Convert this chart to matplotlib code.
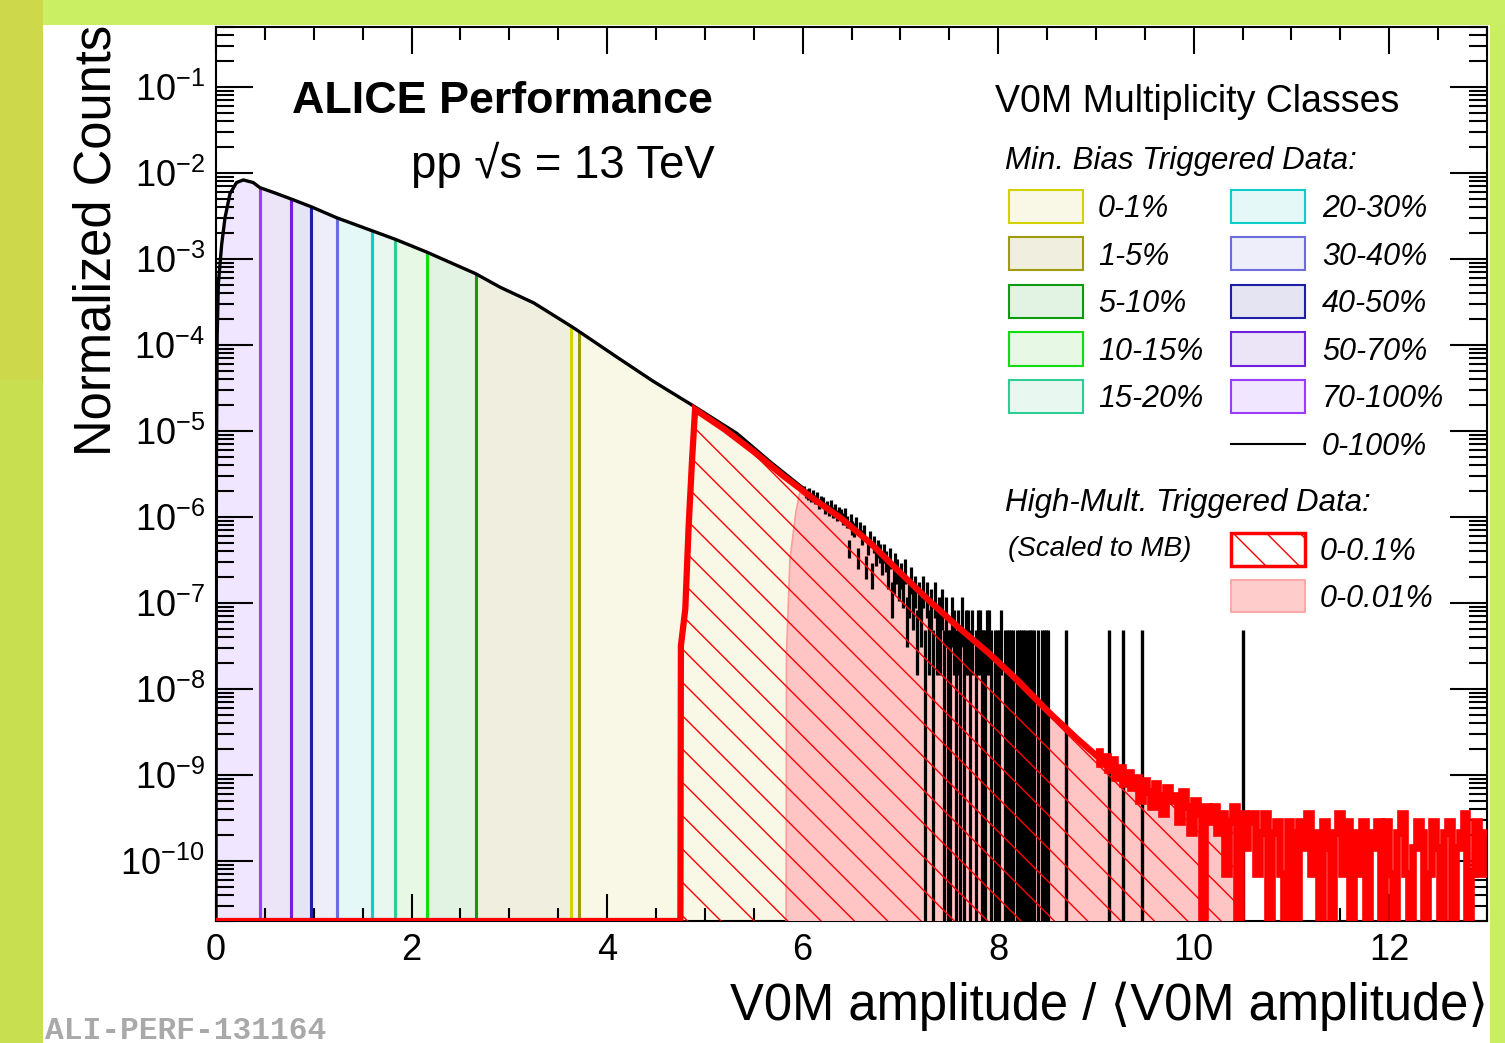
import numpy as np
import matplotlib.pyplot as plt
from matplotlib.patches import Rectangle
from matplotlib.lines import Line2D
from matplotlib.ticker import LogLocator, MultipleLocator, NullFormatter

plt.rcParams['font.family'] = ['Liberation Sans', 'DejaVu Sans']
plt.rcParams['mathtext.fontset'] = 'custom'
plt.rcParams['mathtext.rm'] = 'Liberation Sans'
plt.rcParams['mathtext.it'] = 'Liberation Sans:italic'
plt.rcParams['mathtext.bf'] = 'Liberation Sans:bold'
plt.rcParams['hatch.linewidth'] = 1.0

W, H = 1505, 1043
ybot, ytop = 2e-11, 0.5

# ---- min. bias 0-100% (smooth part), log10 of normalized counts
mb_x = [0.0, 0.004, 0.012, 0.024, 0.058, 0.092, 0.143, 0.21, 0.28, 0.38, 0.45, 0.60,
        0.765, 0.97, 1.235, 1.594, 1.833, 2.157, 2.655, 2.91, 3.25, 3.63, 3.71, 4.10, 4.47,
        4.90, 5.33, 5.67, 6.0]
mb_logy = [np.nan, -5.5, -3.9, -3.29, -2.83, -2.52, -2.24, -2.11, -2.08, -2.11, -2.17, -2.23,
           -2.30, -2.39, -2.52, -2.67, -2.77, -2.92, -3.17, -3.33, -3.51, -3.78, -3.84, -4.14, -4.42,
           -4.72, -5.03, -5.36, -5.66]

# ---- min. bias tail: counts per bin (0.02 wide) from 6.0, one count = mb_unit
mb_unit = 2.45e-8
mb_tail_start, mb_tail_bw = 6.0, 0.02
mb_tail_counts = [
    84, 77, 73, 80, 69, 75, 66, 71, 58, 64,
    61, 52, 55, 49, 57, 47, 51, 43, 46, 44,
    39, 45, 36, 18, 38, 31, 29, 35, 14, 30,
    24, 28, 11, 19, 23, 9, 20, 15, 18, 16,
    12, 16, 13, 9, 14, 5, 8, 12, 10, 7,
    9, 6, 10, 3, 5, 8, 4, 6, 2, 5,
    3, 6, 1, 5, 2, 4, 1, 5, 2, 3,
    2, 4, 1, 3, 1, 1, 3, 2, 1, 2,
    1, 3, 1, 2, 2, 1, 2, 0, 1, 2,
    2, 1, 1, 1, 2, 2, 1, 0, 1, 1,
    1, 2, 0, 1, 1, 1, 1, 1, 0, 1,
    1, 1, 1, 1, 0, 1, 1, 1, 1, 0,
    1, 0, 1, 1, 1, 1, 0, 0, 0, 0]
mb_single_x = [8.69, 9.13, 9.28, 9.47, 10.50]

# ---- multiplicity classes (low to high amplitude)
class_labels = ['70-100%', '50-70%', '40-50%', '30-40%', '20-30%',
                '15-20%', '10-15%', '5-10%', '1-5%', '0-1%']
class_lo = [0.0, 0.45, 0.765, 0.97, 1.235, 1.594, 1.833, 2.157, 2.655, 3.63]
class_hi = [0.45, 0.765, 0.97, 1.235, 1.594, 1.833, 2.157, 2.655, 3.71, 6.0]
class_line = ['#9d3cff', '#7020dd', '#1e1ea8', '#6c6cdc', '#0fcccc',
              '#30cc96', '#10dd10', '#109a10', '#a09a10', '#d2d200']
class_fill = ['#f1e6ff', '#ece4f7', '#e4e4f2', '#eeeefa', '#e4f8f8',
              '#e9f7f1', '#e7f9e4', '#e3f3e3', '#f0efdf', '#f9f8e6']

# ---- high-mult. 0-0.1% (scaled to MB)
hm01_x = [0.0, 4.75, 4.755, 4.80, 4.835, 4.87, 4.90, 5.20, 5.50, 5.80, 6.10, 6.40,
          6.70, 7.00, 7.30, 7.60, 7.90, 8.20, 8.50, 8.80, 9.00]
hm01_logy = [np.nan, np.nan, -7.5, -7.07, -6.09, -5.32, -4.75, -4.98, -5.24, -5.52, -5.78, -6.02,
             -6.31, -6.65, -6.98, -7.29, -7.58, -7.90, -8.25, -8.57, -8.77]
hm_unit = 7.08e-11
hm_tail_start, hm_tail_bw = 9.0, 0.04
hm01_tail_counts = [
    26, 19, 23, 16, 21, 13, 17, 11, 15, 10,
    13, 7, 12, 9, 6, 11, 8, 5, 10, 7,
    8, 4, 9, 6, 3, 7, 5, 0, 6, 4,
    6, 3, 5, 1, 4, 6, 0, 5, 2, 4,
    5, 1, 3, 5, 0, 3, 4, 1, 0, 4,
    3, 0, 4, 2, 5, 1, 3, 0, 4, 2,
    0, 3, 5, 1, 4, 0, 3, 1, 4, 0,
    3, 2, 4, 0, 4, 1, 0, 3, 5, 1,
    0, 2, 4, 3, 0, 1, 4, 2, 0, 3,
    4, 0, 2, 3, 5, 0, 1, 4, 1, 3]

# ---- high-mult. 0-0.01% (scaled to MB)
hm001_x = [5.83, 5.835, 5.87, 5.93, 5.97, 6.10, 6.40, 6.70, 7.00, 7.30, 7.60, 7.90,
           8.20, 8.50, 8.80, 9.12, 9.46, 9.80, 10.14, 10.48, 10.481]
hm001_logy = [np.nan, -7.6, -6.5, -5.95, -5.72, -5.80, -6.04, -6.33, -6.67, -7.0, -7.31, -7.6,
              -7.92, -8.27, -8.59, -8.92, -9.12, -9.27, -9.43, -9.52, np.nan]


def to_y(logy, floor):
    logy = np.asarray(logy, dtype=float)
    return np.where(np.isnan(logy), floor, 10 ** logy)


fig = plt.figure(figsize=(W / 100, H / 100), dpi=100)

# slide background strips
def px(x, y):
    return (x / W, 1 - y / H)

def fig_rect(x0, y0, x1, y1, **kw):
    r = Rectangle(px(x0, y1), (x1 - x0) / W, (y1 - y0) / H, transform=fig.transFigure, **kw)
    fig.patches.append(r)
    return r

fig_rect(0, 0, 43, 380, facecolor='#cdd94a', edgecolor='none')
fig_rect(0, 380, 43, H, facecolor='#c8df50', edgecolor='none')
fig_rect(43, 0, W, 25, facecolor='#cbef63', edgecolor='none')
fig_rect(1490, 25, W, H, facecolor='#c9ee61', edgecolor='none')

ax = fig.add_axes([216 / W, (H - 921) / H, (1487 - 216) / W, (921 - 27) / H])
ax.set_yscale('log')
ax.set_xlim(0, 13)
ax.set_ylim(ybot, ytop)

mbx = np.array(mb_x)
mby = to_y(mb_logy, ybot)

# class fills, then left and right edge lines
for i in range(len(class_labels)):
    m = (mbx >= class_lo[i] - 1e-9) & (mbx <= class_hi[i] + 1e-9)
    ax.fill_between(mbx[m], 1e-12, mby[m], facecolor=class_fill[i], edgecolor='none', zorder=1)
for i in range(1, len(class_labels)):
    ax.vlines(class_lo[i], 1e-12, np.interp(class_lo[i], mbx, mby), color=class_line[i], lw=2.2, zorder=2)
for i in range(len(class_labels) - 1):
    ax.vlines(class_hi[i], 1e-12, np.interp(class_hi[i], mbx, mby), color=class_line[i], lw=2.2, zorder=2)

# 0-0.01% HM pink
px001 = np.array(hm001_x)
py001 = to_y(hm001_logy, 1e-12)
ax.fill_between(px001, 1e-12, py001, facecolor='#ffc4c4', edgecolor='none', zorder=3)
ax.plot(px001, py001, color='#ff9c9c', lw=1.2, zorder=3)

# MB 0-100% black
ax.plot(mbx, mby, color='black', lw=2.4, zorder=4)
cnt = np.array(mb_tail_counts, dtype=float)
left = mb_tail_start + mb_tail_bw * np.arange(len(cnt))
cen = left + mb_tail_bw / 2
nz = cnt > 0
ax.hlines(cnt[nz] * mb_unit, left[nz], left[nz] + mb_tail_bw, color='black', lw=2.0, zorder=4)
lo_err = np.where(cnt - np.sqrt(cnt) > 0, (cnt - np.sqrt(cnt)) * mb_unit, 1e-12)
ax.vlines(cen[nz], lo_err[nz], (cnt[nz] + np.sqrt(cnt[nz])) * mb_unit, color='black', lw=2.3, zorder=4)
sx = np.array(mb_single_x)
ax.vlines(sx, 1e-12, 2 * mb_unit, color='black', lw=2.4, zorder=4)
ax.hlines(np.full(len(sx), mb_unit), sx - 0.01, sx + 0.01, color='black', lw=2.0, zorder=4)

# HM 0-0.1% red, hatched
rx = np.array(hm01_x)
ry = to_y(hm01_logy, ybot)
ax.fill_between(rx, 1e-12, ry, facecolor='none', edgecolor='red', hatch='\\', lw=0, zorder=5)
hc = np.array(hm01_tail_counts, dtype=float)
hedges = hm_tail_start + hm_tail_bw * np.arange(len(hc) + 1)
hy = np.where(hc > 0, hc * hm_unit, ybot)
hm = hedges <= 10.5
ax.fill_between(hedges[hm], 1e-12, np.append(hy, hy[-1])[hm], step='post',
                facecolor='none', edgecolor='red', hatch='\\', lw=0, zorder=5)
ax.plot(rx, ry, color='red', lw=4.5, zorder=6, solid_joinstyle='miter')
ax.stairs(hy, hedges, color='red', lw=5.5, baseline=None, zorder=6)

# axes styling
ax.set_axisbelow(False)
ax.xaxis.set_major_locator(MultipleLocator(2))
ax.xaxis.set_minor_locator(MultipleLocator(0.5))
ax.yaxis.set_major_locator(LogLocator(base=10, numticks=100))
ax.yaxis.set_minor_locator(LogLocator(base=10, subs=np.arange(2, 10), numticks=100))
ax.yaxis.set_minor_formatter(NullFormatter())
ax.tick_params(which='both', direction='in', top=True, right=True, width=1.5, colors='black')
ax.tick_params(axis='x', which='major', length=19.5, pad=9, labelsize=26)
ax.tick_params(axis='x', which='minor', length=9.5)
ax.tick_params(axis='y', which='major', length=26.5, pad=8, labelsize=26)
ax.tick_params(axis='y', which='minor', length=13)
for s in ax.spines.values():
    s.set_linewidth(1.5)

# titles
fig.text(*px(292, 113), 'ALICE Performance', fontsize=32.3, weight='bold', va='baseline')
fig.text(*px(411, 178), 'pp √s = 13 TeV', fontsize=32.8, va='baseline')
fig.text(*px(97, 25), 'Normalized Counts', fontsize=36.5, rotation=90, ha='center', va='top')
fig.text(*px(1488, 1020), 'V0M amplitude / ⟨V0M amplitude⟩', fontsize=36.5, ha='right', va='baseline')
fig.text(*px(45, 1039), 'ALI-PERF-131164', fontsize=22.5, family='Liberation Mono', weight='bold',
         color='#a9a9a9', va='baseline')

# legend
fig.text(*px(995, 112), 'V0M Multiplicity Classes', fontsize=27, va='baseline')
fig.text(*px(1005, 169), 'Min. Bias Triggered Data:', fontsize=22.5, style='italic', va='baseline')
row_y = [206.7, 254, 301.7, 349, 396.7]
col1 = ['0-1%', '1-5%', '5-10%', '10-15%', '15-20%']
col2 = ['20-30%', '30-40%', '40-50%', '50-70%', '70-100%']
for col, bx, tx in [(col1, 1009, 1098), (col2, 1231, 1322)]:
    for lab, yc in zip(col, row_y):
        k = class_labels.index(lab)
        fig_rect(bx, yc - 16.5, bx + 74, yc + 16.5, facecolor=class_fill[k],
                 edgecolor=class_line[k], lw=1.5)
        fig.text(*px(tx, yc + 10.6), lab, fontsize=22, style='italic', va='baseline')
fig.add_artist(Line2D([1231 / W, 1305 / W], [1 - 444.3 / H] * 2, color='black', lw=1.5,
                      transform=fig.transFigure))
fig.text(*px(1322, 454.9), '0-100%', fontsize=22, style='italic', va='baseline')

fig.text(*px(1005, 511), 'High-Mult. Triggered Data:', fontsize=22.5, style='italic', va='baseline')
fig.text(*px(1008, 556), '(Scaled to MB)', fontsize=20, style='italic', va='baseline')
fig_rect(1231, 533, 1305, 566, facecolor='white', edgecolor='red', lw=2.5, hatch='\\')
fig.text(*px(1320, 560), '0-0.1%', fontsize=22, style='italic', va='baseline')
fig_rect(1231, 580, 1305, 612, facecolor='#ffcccc', edgecolor='#ffaaaa', lw=1.5)
fig.text(*px(1320, 607), '0-0.01%', fontsize=22, style='italic', va='baseline')

fig.savefig('out.png', dpi=100)
